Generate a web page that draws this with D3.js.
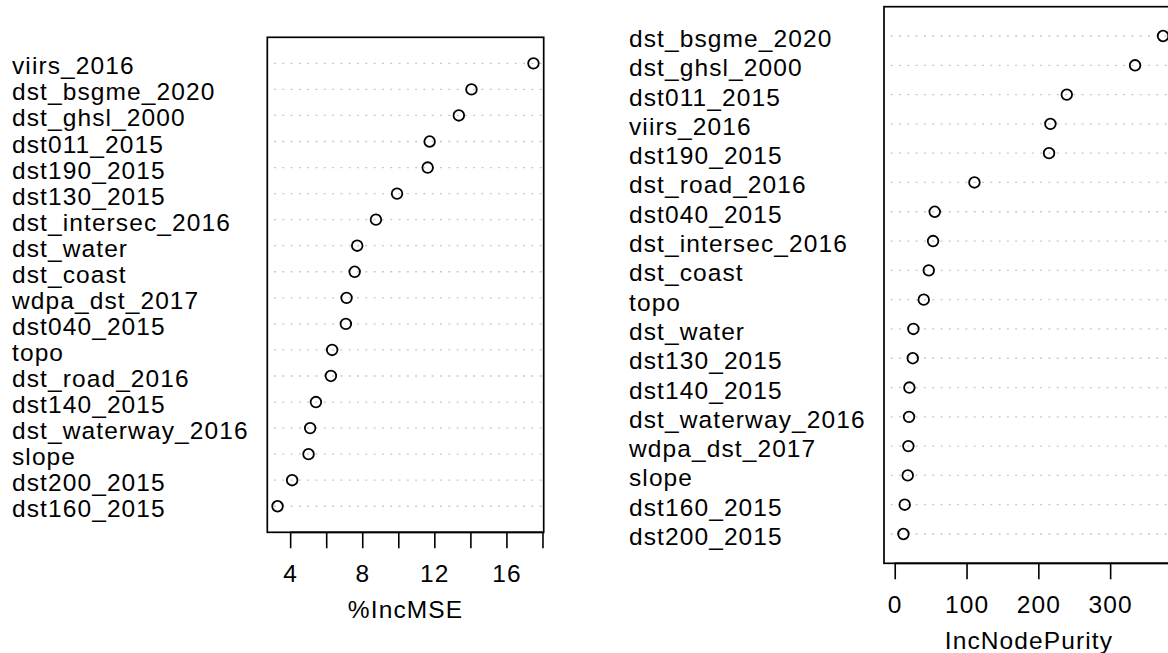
<!DOCTYPE html>
<html>
<head>
<meta charset="utf-8">
<script src="https://cdn.jsdelivr.net/npm/d3@7"></script>
<style>
  html, body { margin: 0; padding: 0; background: #fff; }
  svg { display: block; }
  text { font-family: "Liberation Sans", Arial, Helvetica, sans-serif; fill: #000; }
</style>
</head>
<body>
<svg id="chart" width="1168" height="653"></svg>
<script>
// ---- Data (top-to-bottom order as drawn) ----
const mseLabels = ["viirs_2016","dst_bsgme_2020","dst_ghsl_2000","dst011_2015","dst190_2015","dst130_2015","dst_intersec_2016","dst_water","dst_coast","wdpa_dst_2017","dst040_2015","topo","dst_road_2016","dst140_2015","dst_waterway_2016","slope","dst200_2015","dst160_2015"];
const mseValues = [17.5, 14.06, 13.36, 11.74, 11.63, 9.93, 8.76, 7.72, 7.58, 7.13, 7.09, 6.33, 6.26, 5.43, 5.11, 5.02, 4.11, 3.30];
const mseTicks = [4, 6, 8, 10, 12, 14, 16, 18];
const mseTickLabels = [4, 8, 12, 16];
const mseTitle = "%IncMSE";

const purLabels = ["dst_bsgme_2020","dst_ghsl_2000","dst011_2015","viirs_2016","dst190_2015","dst_road_2016","dst040_2015","dst_intersec_2016","dst_coast","topo","dst_water","dst130_2015","dst140_2015","dst_waterway_2016","wdpa_dst_2017","slope","dst160_2015","dst200_2015"];
const purValues = [373.7, 334.7, 239.6, 216.8, 214.9, 111.0, 55.7, 53.4, 47.4, 40.4, 26.0, 25.1, 20.4, 19.9, 19.0, 18.1, 13.9, 12.1];
const purTicks = [0, 100, 200, 300, 400];
const purTickLabels = [0, 100, 200, 300];
const purTitle = "IncNodePurity";

// ---- Layout ----
const FONT = 24.5;
const LS = 1.1;
const svg = d3.select("#chart");

function panel(cfg) {
  const { labels, values, ticks, tickLabels, title, left, right, top, bottom, labelX, xmin } = cfg;
  const n = values.length;
  const lo = xmin !== undefined ? xmin : d3.min(values);
  const hi = d3.max(values);
  const span = hi - lo;
  const x = d3.scaleLinear().domain([lo - 0.04 * span, hi + 0.04 * span]).range([left, right]);
  const y = d3.scaleLinear().domain([0, n + 1]).range([bottom, top]);
  const g = svg.append("g");

  const clipId = "clip" + Math.round(left);
  svg.append("clipPath").attr("id", clipId)
    .append("rect").attr("x", left).attr("y", top).attr("width", right - left).attr("height", bottom - top);

  const rows = values.map((v, i) => ({ v, label: labels[i], pos: n - i }));

  // dotted guide lines
  g.append("g").attr("clip-path", `url(#${clipId})`)
    .selectAll("line").data(rows).join("line")
    .attr("x1", left + 6.7).attr("x2", right)
    .attr("y1", d => y(d.pos)).attr("y2", d => y(d.pos))
    .attr("stroke", "#c8c8c8").attr("stroke-width", 1.3)
    .attr("stroke-dasharray", "2,6.3");

  // points
  g.selectAll("circle").data(rows).join("circle")
    .attr("cx", d => x(d.v)).attr("cy", d => y(d.pos)).attr("r", 5.3)
    .attr("fill", "none").attr("stroke", "#000").attr("stroke-width", 1.8);

  // box
  g.append("rect").attr("x", left).attr("y", top)
    .attr("width", right - left).attr("height", bottom - top)
    .attr("fill", "none").attr("stroke", "#000").attr("stroke-width", 1.7);

  // labels
  g.selectAll("text.lab").data(rows).join("text").attr("class", "lab")
    .attr("x", labelX).attr("y", d => y(d.pos) + 11)
    .attr("font-size", FONT).attr("letter-spacing", LS)
    .text(d => d.label);

  // x axis
  const axis = d3.axisBottom(x).tickValues(ticks).tickSize(16).tickPadding(0)
    .tickFormat(d => tickLabels.includes(d) ? String(d) : "");
  const ag = g.append("g").attr("transform", `translate(0,${bottom})`).call(axis);
  ag.select(".domain").attr("stroke", "#000").attr("stroke-width", 1.7)
    .attr("d", `M${x(ticks[0])},0H${x(ticks[ticks.length - 1])}`);
  ag.selectAll(".tick line").attr("stroke", "#000").attr("stroke-width", 1.6);
  ag.selectAll(".tick text").attr("font-size", FONT).attr("letter-spacing", LS)
    .attr("font-family", "Liberation Sans, Arial, sans-serif").attr("fill", "#000")
    .attr("dy", null).attr("y", 50);

  g.append("text").attr("x", (left + right) / 2).attr("y", bottom + 86)
    .attr("text-anchor", "middle").attr("font-size", FONT).attr("letter-spacing", LS)
    .text(title);
}

panel({ labels: mseLabels, values: mseValues, ticks: mseTicks, tickLabels: mseTickLabels, title: mseTitle,
        left: 267.3, right: 543.7, top: 37.3, bottom: 532.3, labelX: 12, xmin: undefined });
panel({ labels: purLabels, values: purValues, ticks: purTicks, tickLabels: purTickLabels, title: purTitle,
        left: 884, right: 1173.8, top: 6.7, bottom: 563.3, labelX: 629, xmin: 0 });
</script>
</body>
</html>
